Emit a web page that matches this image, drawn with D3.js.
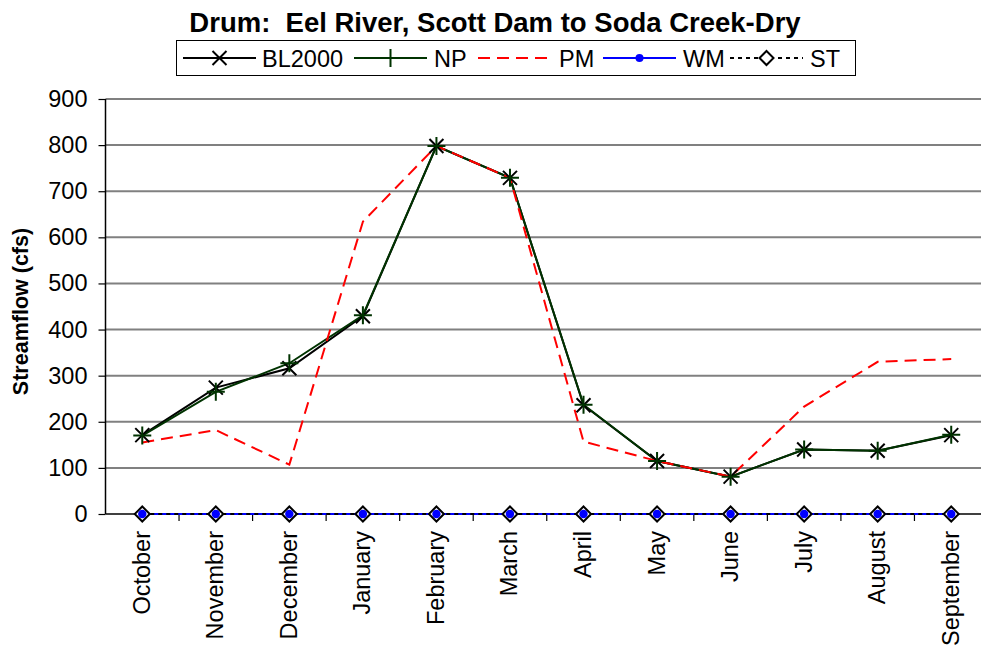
<!DOCTYPE html>
<html><head><meta charset="utf-8">
<script src="https://cdn.jsdelivr.net/npm/d3@7"></script>
<style>body{margin:0;background:#fff}svg{display:block;font-family:"Liberation Sans",Arial,sans-serif}text{white-space:pre}</style>
</head><body>
<svg id="c" width="981" height="648"></svg>
<script>
const months = ["October","November","December","January","February","March","April","May","June","July","August","September"];
const bl2000 = [171, 274, 316, 429, 798, 729, 236, 115, 81, 140, 137, 171];
const np     = [170, 265, 327, 431, 798, 729, 237, 115, 81, 140, 137, 172];
const pm     = [155, 182, 107, 634, 798, 729, 157, 115, 81, 233, 330, 336];
const wm     = [0,0,0,0,0,0,0,0,0,0,0,0];
const st     = [0,0,0,0,0,0,0,0,0,0,0,0];
const yTicks = [0,100,200,300,400,500,600,700,800,900];
const title = "Drum:  Eel River, Scott Dam to Soda Creek-Dry";
const yLabel = "Streamflow (cfs)";

const svg = d3.select("#c");
const L = 105.5, R = 988, T = 99, B = 514;
const x = d3.scaleBand().domain(months).range([L, R]);
const y = d3.scaleLinear().domain([0, 900]).range([B, T]);
const cx = m => x(m) + x.bandwidth()/2;
const FS = 23.5;

// gridlines
svg.append("g").selectAll("line").data(yTicks.filter(d=>d>0)).join("line")
  .attr("x1", L).attr("x2", R).attr("y1", d=>y(d)).attr("y2", d=>y(d))
  .attr("stroke", "#808080").attr("stroke-width", 2);

// y axis
const ya = svg.append("g").attr("transform", `translate(${L},0)`)
  .call(d3.axisLeft(y).tickValues(yTicks).tickSize(7).tickPadding(11));
ya.select(".domain").attr("stroke","#000").attr("stroke-width",1.5).attr("d", `M0,${T}V${B}`);
ya.selectAll(".tick line").attr("stroke","#000").attr("stroke-width",1.2);
ya.selectAll(".tick text").attr("font-size", FS).attr("fill","#000").attr("font-family","Liberation Sans, Arial, sans-serif");

// x axis line
svg.append("line").attr("x1", L).attr("x2", R).attr("y1", B).attr("y2", B).attr("stroke","#000").attr("stroke-width",1.5);
// x ticks between categories
svg.append("g").selectAll("line").data(months.slice(1)).join("line")
  .attr("x1", d=>x(d)).attr("x2", d=>x(d)).attr("y1", B).attr("y2", B+7)
  .attr("stroke","#000").attr("stroke-width",1.2);
// x labels
svg.append("g").selectAll("text").data(months).join("text")
  .attr("transform", d=>`translate(${cx(d)+7.5},${B+17}) rotate(-90)`)
  .attr("text-anchor","end").attr("font-size",FS).attr("fill","#000").text(d=>d);

// y label
svg.append("text").attr("transform", `translate(28,${(T+B)/2+5}) rotate(-90)`)
  .attr("text-anchor","middle").attr("font-size",21.5).attr("font-weight","bold").text(yLabel);

// title
svg.append("text").attr("x", 495).attr("y", 32).attr("text-anchor","middle")
  .attr("font-size",27.5).attr("font-weight","bold").text(title);

const line = d3.line().x((d,i)=>cx(months[i])).y(d=>y(d));

function xMark(g, px, py, s, col){
  g.append("path").attr("d",`M${px-s},${py-s}L${px+s},${py+s}M${px-s},${py+s}L${px+s},${py-s}`)
   .attr("stroke",col).attr("stroke-width",2).attr("fill","none");
}
function plusMark(g, px, py, s, col){
  g.append("path").attr("d",`M${px-s},${py}L${px+s},${py}M${px},${py-s}L${px},${py+s}`)
   .attr("stroke",col).attr("stroke-width",2).attr("fill","none");
}
function diamond(g, px, py, s){
  g.append("path").attr("d",`M${px},${py-s}L${px+s},${py}L${px},${py+s}L${px-s},${py}Z`)
   .attr("stroke","#000").attr("stroke-width",2).attr("fill","#fff");
}
function dot(g, px, py, r){
  g.append("circle").attr("cx",px).attr("cy",py).attr("r",r).attr("fill","#0000ff");
}

const green = "#003300";
const series = [
  {name:"BL2000", data:bl2000, color:"#000", dash:null},
  {name:"NP", data:np, color:green, dash:null},
  {name:"PM", data:pm, color:"#ff0000", dash:"12,7"},
  {name:"WM", data:wm, color:"#0000ff", dash:null},
  {name:"ST", data:st, color:"#000", dash:"4,4"}
];
const lg = svg.append("g");
series.forEach(s=>{
  lg.append("path").datum(s.data).attr("d", line).attr("fill","none")
    .attr("stroke", s.color).attr("stroke-width",2).attr("stroke-dasharray", s.dash);
});
const mg = svg.append("g");
bl2000.forEach((v,i)=>xMark(mg, cx(months[i]), y(v), 7, "#000"));
np.forEach((v,i)=>plusMark(mg, cx(months[i]), y(v), 9, green));
st.forEach((v,i)=>diamond(mg, cx(months[i]), y(v), 7.5));
wm.forEach((v,i)=>dot(mg, cx(months[i]), y(v), 4.2));

// legend
const leg = svg.append("g");
leg.append("rect").attr("x",176.5).attr("y",40.5).attr("width",679).attr("height",35)
  .attr("fill","#fff").attr("stroke","#000").attr("stroke-width",1);
const legItems = [
  {s:series[0], x0:183, tx:262, mk:"x"},
  {s:series[1], x0:354, tx:434, mk:"+"},
  {s:series[2], x0:478, tx:559, mk:null},
  {s:series[3], x0:603, tx:683, mk:"o"},
  {s:series[4], x0:730, tx:810, mk:"d"}
];
const ly = 58;
legItems.forEach(it=>{
  leg.append("line").attr("x1",it.x0).attr("x2",it.x0+73).attr("y1",ly).attr("y2",ly)
    .attr("stroke",it.s.color).attr("stroke-width",2).attr("stroke-dasharray",it.s.dash);
  const mx = it.x0+36.5;
  if(it.mk==="x") xMark(leg,mx,ly,7,"#000");
  if(it.mk==="+") plusMark(leg,mx,ly,9,green);
  if(it.mk==="o") dot(leg,mx,ly,4);
  if(it.mk==="d") diamond(leg,mx,ly,7);
  leg.append("text").attr("x",it.tx).attr("y",ly+8.5).attr("font-size",FS).text(it.s.name);
});
</script>
</body></html>
